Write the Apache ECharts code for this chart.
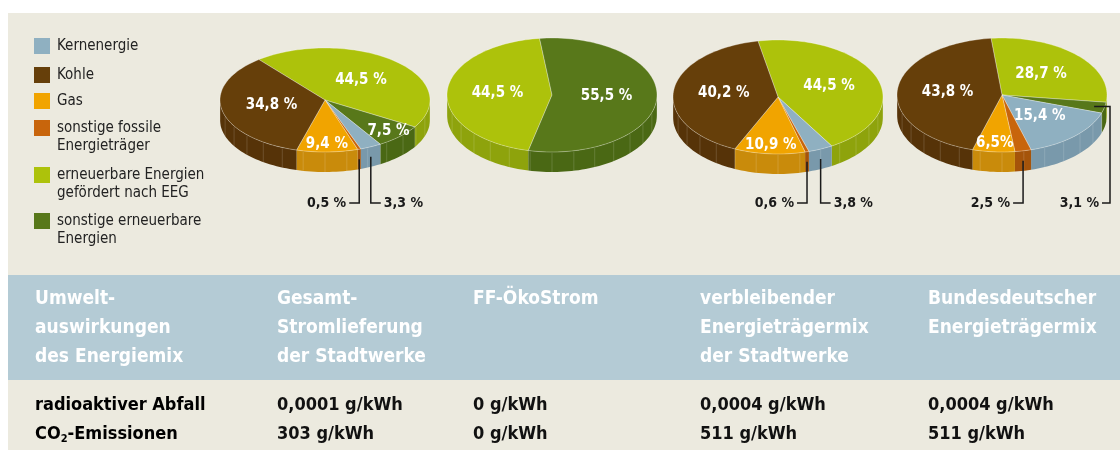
<!DOCTYPE html>
<html>
<head>
<meta charset="utf-8">
<script src="https://cdn.jsdelivr.net/npm/echarts@6/dist/echarts.min.js"></script>
<style>
  html, body { margin: 0; padding: 0; background: #fff; }
  #chart { width: 1120px; height: 450px; }
</style>
</head>
<body>
<div id="chart"></div>
<script>
// slice categories, clockwise as they sit in every pie (each pie starts with EEG)
const categories = ['erneuerbare Energien gefördert nach EEG', 'sonstige erneuerbare Energien', 'Kernenergie', 'sonstige fossile Energieträger', 'Gas', 'Kohle']
const legendOrder = ['Kernenergie', 'Kohle', 'Gas', 'sonstige fossile Energieträger', 'erneuerbare Energien gefördert nach EEG', 'sonstige erneuerbare Energien']

// shares in % per mix: Gesamt, ÖkoStrom, verbleibend, Bundesdeutsch
const eeg = [44.5, 44.5, 44.5, 28.7]
const sonstErneuerbar = [7.5, 55.5, 0, 3.1]
const kern = [3.3, 0, 3.8, 15.4]
const sonstFossil = [0.5, 0, 0.6, 2.5]
const gas = [9.4, 0, 10.9, 6.5]
const kohle = [34.8, 0, 40.2, 43.8]

// table
const tableHead = ['Umwelt-\nauswirkungen\ndes Energiemix', 'Gesamt-\nStromlieferung\nder Stadtwerke', 'FF-ÖkoStrom', 'verbleibender\nEnergieträgermix\nder Stadtwerke', 'Bundesdeutscher\nEnergieträgermix']
const rowLabels = ['radioaktiver Abfall', '{b|CO}{s|2}{b|-Emissionen}']
const abfall = ['0,0001 g/kWh', '0 g/kWh', '0,0004 g/kWh', '0,0004 g/kWh']
const co2 = ['303 g/kWh', '0 g/kWh', '511 g/kWh', '511 g/kWh']

const FONT = "'DejaVu Sans Condensed', 'Noto Sans', sans-serif"

const shares = [eeg, sonstErneuerbar, kern, sonstFossil, gas, kohle]
const topColors = ['#adc20b', '#58781a', '#8fb0c1', '#c8650c', '#f1a400', '#663f0a']
const sideColors = ['#8ea30c', '#4a6814', '#7999ab', '#a5540a', '#c98b0b', '#563308']

// pseudo 3d layout of the four pies
const pieCenter = [[325, 100], [552, 95], [778, 97], [1002, 95]]
const pieRy = [52, 57, 57, 57]
const rx = 105
const depth = 20
const startDeg = [-39, 193, -11, -6]
// small slices get a callout: -1 left, 1 right, 2 round the right edge
const callout = { '0-3': -1, '0-2': 1, '2-3': -1, '2-2': 1, '3-3': -1, '3-1': 2 }
const calloutY = 203
const noSpace = { '3-4': true }

const legendText = {
  'Kernenergie': 'Kernenergie',
  'Kohle': 'Kohle',
  'Gas': 'Gas',
  'sonstige fossile Energieträger': '\nsonstige fossile\nEnergieträger',
  'erneuerbare Energien gefördert nach EEG': '\nerneuerbare Energien\ngefördert nach EEG',
  'sonstige erneuerbare Energien': '\nsonstige erneuerbare\nEnergien'
}
const legendTop = [38, 67, 93, 120, 167, 213]

function renderSlice(params, api) {
  const s = params.seriesIndex
  const p = api.value(0)
  const v = api.value(1)
  if (!v) return null
  let before = 0
  for (let j = 0; j < s; j++) before += shares[j][p]
  const a0 = startDeg[p] + before * 3.6
  const a1 = a0 + v * 3.6
  const cx = pieCenter[p][0], cy = pieCenter[p][1], ry = pieRy[p]
  const pt = (a, f = 1, dy = 0) => {
    const r = a * Math.PI / 180
    return [cx + rx * f * Math.sin(r), cy - ry * f * Math.cos(r) + dy]
  }
  const arc = (b0, b1, dy) => {
    const n = Math.max(2, Math.ceil((b1 - b0) / 2))
    const out = []
    for (let i = 0; i <= n; i++) out.push(pt(b0 + (b1 - b0) * i / n, 1, dy))
    return out
  }
  const children = []
  children.push({
    type: 'polygon', z2: 5,
    shape: { points: [[cx, cy]].concat(arc(a0, a1, 0)) },
    style: { fill: topColors[s], stroke: 'rgba(255,255,255,0.3)', lineWidth: 1 }
  })
  // front wall
  for (let k = -1; k <= 1; k++) {
    const w0 = Math.max(a0, 90 + 360 * k)
    const w1 = Math.min(a1, 270 + 360 * k)
    if (w1 <= w0) continue
    const top = arc(w0, w1, 0)
    const bottom = arc(w0, w1, depth).reverse()
    children.push({ type: 'polygon', z2: 1, shape: { points: top.concat(bottom) }, style: { fill: sideColors[s] } })
    for (let a = Math.ceil(w0 / 12) * 12; a < w1; a += 12) {
      const q = pt(a)
      children.push({
        type: 'line', z2: 2,
        shape: { x1: q[0], y1: q[1] + 1, x2: q[0], y2: q[1] + depth },
        style: { stroke: 'rgba(255,255,255,0.15)', lineWidth: 1 }
      })
    }
  }
  const mid = (a0 + a1) / 2
  const txt = v.toFixed(1).replace('.', ',') + (noSpace[p + '-' + s] ? '%' : ' %')
  if (v >= 5) {
    const c = pt(mid, v >= 12 ? 0.52 : 0.85)
    children.push({
      type: 'text', z2: 10,
      style: { text: txt, x: c[0], y: c[1], fill: '#fff', fontSize: 15, fontWeight: 'bold', fontFamily: FONT, align: 'center', verticalAlign: 'middle' }
    })
  } else {
    const dir = callout[p + '-' + s]
    let pts, tx, align
    if (dir === 2) {
      const q = pt(mid, 0.9)
      const xr = cx + rx + 3
      pts = [q, [xr, q[1]], [xr, calloutY], [xr - 8, calloutY]]
      tx = xr - 11
      align = 'right'
    } else {
      const q = pt(mid, 1, depth * 0.5)
      pts = [q, [q[0], calloutY], [q[0] + dir * 10, calloutY]]
      tx = q[0] + dir * 13
      align = dir < 0 ? 'right' : 'left'
    }
    children.push({ type: 'polyline', z2: 8, shape: { points: pts }, style: { stroke: '#1a1a1a', lineWidth: 1.5, fill: null } })
    children.push({
      type: 'text', z2: 10,
      style: { text: txt, x: tx, y: calloutY, fill: '#1a1a1a', fontSize: 14, fontWeight: 'bold', fontFamily: FONT, align: align, verticalAlign: 'middle' }
    })
  }
  return { type: 'group', children }
}

const chart = echarts.init(document.getElementById('chart'))

const colX = [35, 277, 473, 700, 928]
const graphics = [
  { type: 'rect', z: -10, shape: { x: 0, y: 0, width: 1120, height: 450 }, style: { fill: '#fff' } },
  { type: 'rect', z: -9, shape: { x: 8, y: 13, width: 1112, height: 437 }, style: { fill: '#eceadf' } },
  { type: 'rect', z: -8, shape: { x: 8, y: 275, width: 1112, height: 105 }, style: { fill: '#b4cbd5' } }
]
tableHead.forEach((t, i) => {
  graphics.push({
    type: 'text', z: -7,
    style: { text: t, x: colX[i], y: 284.5, fill: '#fff', fontSize: 19, fontWeight: 'bold', fontFamily: FONT, lineHeight: 29, verticalAlign: 'top' }
  })
})
const rowY = [405, 434]
const rich = {
  b: { fontSize: 18, fontWeight: 'bold', fontFamily: FONT, color: '#111', lineHeight: 22 },
  s: { fontSize: 11, fontWeight: 'bold', fontFamily: FONT, color: '#111', lineHeight: 22, verticalAlign: 'bottom' }
}
const rows = [abfall, co2]
rows.forEach((vals, r) => {
  graphics.push({
    type: 'text', z: -7,
    style: { text: r === 1 ? rowLabels[r] : '{b|' + rowLabels[r] + '}', rich: rich, x: colX[0], y: rowY[r], verticalAlign: 'middle' }
  })
  vals.forEach((v, i) => {
    graphics.push({
      type: 'text', z: -7,
      style: { text: v, x: colX[i + 1], y: rowY[r], fill: '#111', fontSize: 18, fontWeight: 'bold', fontFamily: FONT, verticalAlign: 'middle' }
    })
  })
})

const option = {
  animation: false,
  backgroundColor: 'transparent',
  graphic: graphics,
  legend: legendOrder.map((name, i) => {
    const two = legendText[name].charAt(0) === '\n'
    return {
      data: [name],
      left: 34,
      top: legendTop[i] - (two ? 19 : 1),
      orient: 'vertical',
      padding: 0,
      itemWidth: 16,
      itemHeight: 16,
      icon: 'rect',
      selectedMode: false,
      formatter: n => legendText[n],
      textStyle: { fontFamily: FONT, fontSize: 15, color: '#222', lineHeight: 18, padding: [0, 0, 0, 2] }
    }
  }),
  series: categories.map((name, s) => ({
    type: 'custom',
    name: name,
    coordinateSystem: 'none',
    itemStyle: { color: topColors[s] },
    renderItem: renderSlice,
    data: shares[s].map((v, p) => [p, v])
  }))
}

chart.setOption(option)
</script>
</body>
</html>
